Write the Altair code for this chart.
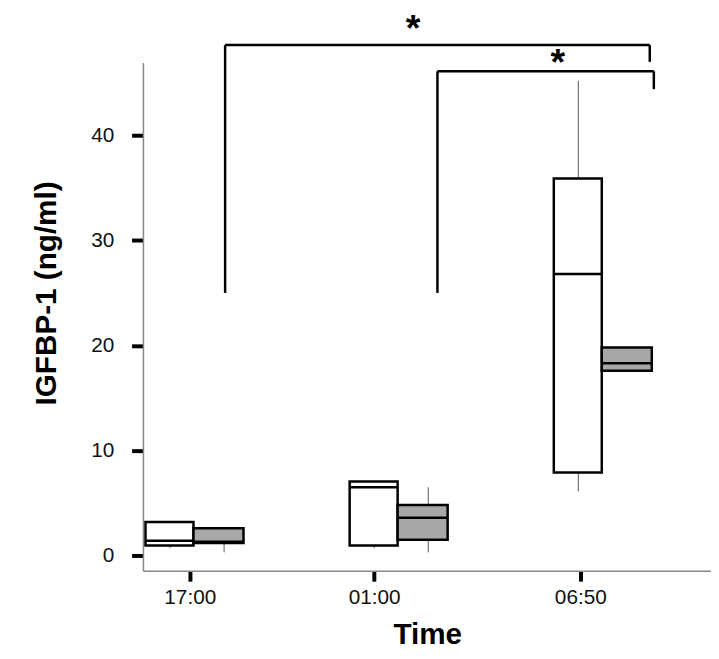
import altair as alt
import pandas as pd

times = ['17:00', '01:00', '06:50']
pos = [0, 1, 2]
tick_pos = [-0.033, 0.87, 1.88]

# open boxes
w_q1 = [0.95, 0.95, 7.9]
w_med = [1.4, 6.5, 26.8]
w_q3 = [3.2, 7.05, 35.9]
w_lo = [0.7, 0.7, 6.1]
w_hi = [3.2, 7.05, 45.2]

# hatched boxes
h_q1 = [1.2, 1.5, 17.6]
h_med = [1.3, 3.6, 18.3]
h_q3 = [2.6, 4.8, 19.8]
h_lo = [0.3, 0.3, 17.6]
h_hi = [2.6, 6.5, 19.8]

rows = []
for i, p in enumerate(pos):
    rows.append(dict(g='open', x0=p - 0.25, x1=p - 0.015, xc=p - 0.13,
                     q1=w_q1[i], med=w_med[i], q3=w_q3[i], lo=w_lo[i], hi=w_hi[i]))
    rows.append(dict(g='hatch', x0=p - 0.015, x1=p + 0.23, xc=p + 0.135,
                     q1=h_q1[i], med=h_med[i], q3=h_q3[i], lo=h_lo[i], hi=h_hi[i]))
df = pd.DataFrame(rows)

xs = alt.Scale(domain=[-0.26, 2.52], nice=False, zero=False)
ys = alt.Scale(domain=[-1.5, 51.5], nice=False, zero=False)

xax = alt.Axis(values=tick_pos,
               labelExpr="datum.value < 0.5 ? '17:00' : (datum.value < 1.5 ? '01:00' : '06:50')",
               title='Time', titlePadding=12, tickSize=10, labelPadding=6)
yax = alt.Axis(values=[0, 10, 20, 30, 40], title='IGFBP-1 (ng/ml)', titlePadding=30,
               labelPadding=18, tickSize=12)

# axis lines (this layer carries the axes)
ax_df = pd.DataFrame({'x0': [-0.26, -0.26], 'x1': [-0.26, 2.52], 'y0': [-1.5, -1.5], 'y1': [46.9, -1.5]})
axes = alt.Chart(ax_df).mark_rule(color='#888', strokeWidth=1.5).encode(
    x=alt.X('x0:Q', scale=xs, axis=xax), x2='x1:Q',
    y=alt.Y('y0:Q', scale=ys, axis=yax), y2='y1:Q')

base = alt.Chart(df)
whisk = base.mark_rule(color='#555', strokeWidth=1).encode(
    x=alt.X('xc:Q', scale=xs), y=alt.Y('lo:Q', scale=ys), y2='hi:Q')
boxes = base.mark_rect(stroke='black', strokeWidth=2.5).encode(
    x=alt.X('x0:Q', scale=xs), x2='x1:Q', y=alt.Y('q1:Q', scale=ys), y2='q3:Q',
    fill=alt.Color('g:N', scale=alt.Scale(domain=['open', 'hatch'], range=['white', '#a8a8a8']),
                   legend=None))
meds = base.mark_rule(color='black', strokeWidth=2.5).encode(
    x=alt.X('x0:Q', scale=xs), x2='x1:Q', y=alt.Y('med:Q', scale=ys))

# significance brackets
br_df = pd.DataFrame({
    'x0': [0.14, 0.14, 2.22, 1.18, 1.18, 2.24],
    'x1': [0.14, 2.22, 2.22, 1.18, 2.24, 2.24],
    'y0': [25, 48.6, 48.6, 25, 46.1, 46.1],
    'y1': [48.6, 48.6, 47.0, 46.1, 46.1, 44.4],
})
brackets = alt.Chart(br_df).mark_rule(color='black', strokeWidth=2.5).encode(
    x=alt.X('x0:Q', scale=xs), x2='x1:Q', y=alt.Y('y0:Q', scale=ys), y2='y1:Q')
st_df = pd.DataFrame({'x': [1.06, 1.77], 'y': [50.0, 46.8], 't': ['*', '*']})
stars = alt.Chart(st_df).mark_text(fontSize=38, fontWeight='bold', baseline='middle',
                                   font='Liberation Sans').encode(
    x=alt.X('x:Q', scale=xs), y=alt.Y('y:Q', scale=ys), text='t:N')

chart = (axes + whisk + boxes + meds + brackets + stars).properties(
    width=574, height=563, autosize=alt.AutoSizeParams(type='none'),
    padding={'left': 137, 'top': 3, 'right': 0, 'bottom': 80}, background='white'
).configure_view(stroke=None, clip=False).configure_axis(
    labelFont='Liberation Sans', titleFont='Liberation Sans', grid=False, domain=False,
    tickColor='black', tickWidth=4, labelFontSize=21, labelColor='#111',
    titleFontSize=30, titleFontWeight='bold', titleColor='black'
)

chart.save("out.html", embed_options={"renderer": "svg", "actions": False})
